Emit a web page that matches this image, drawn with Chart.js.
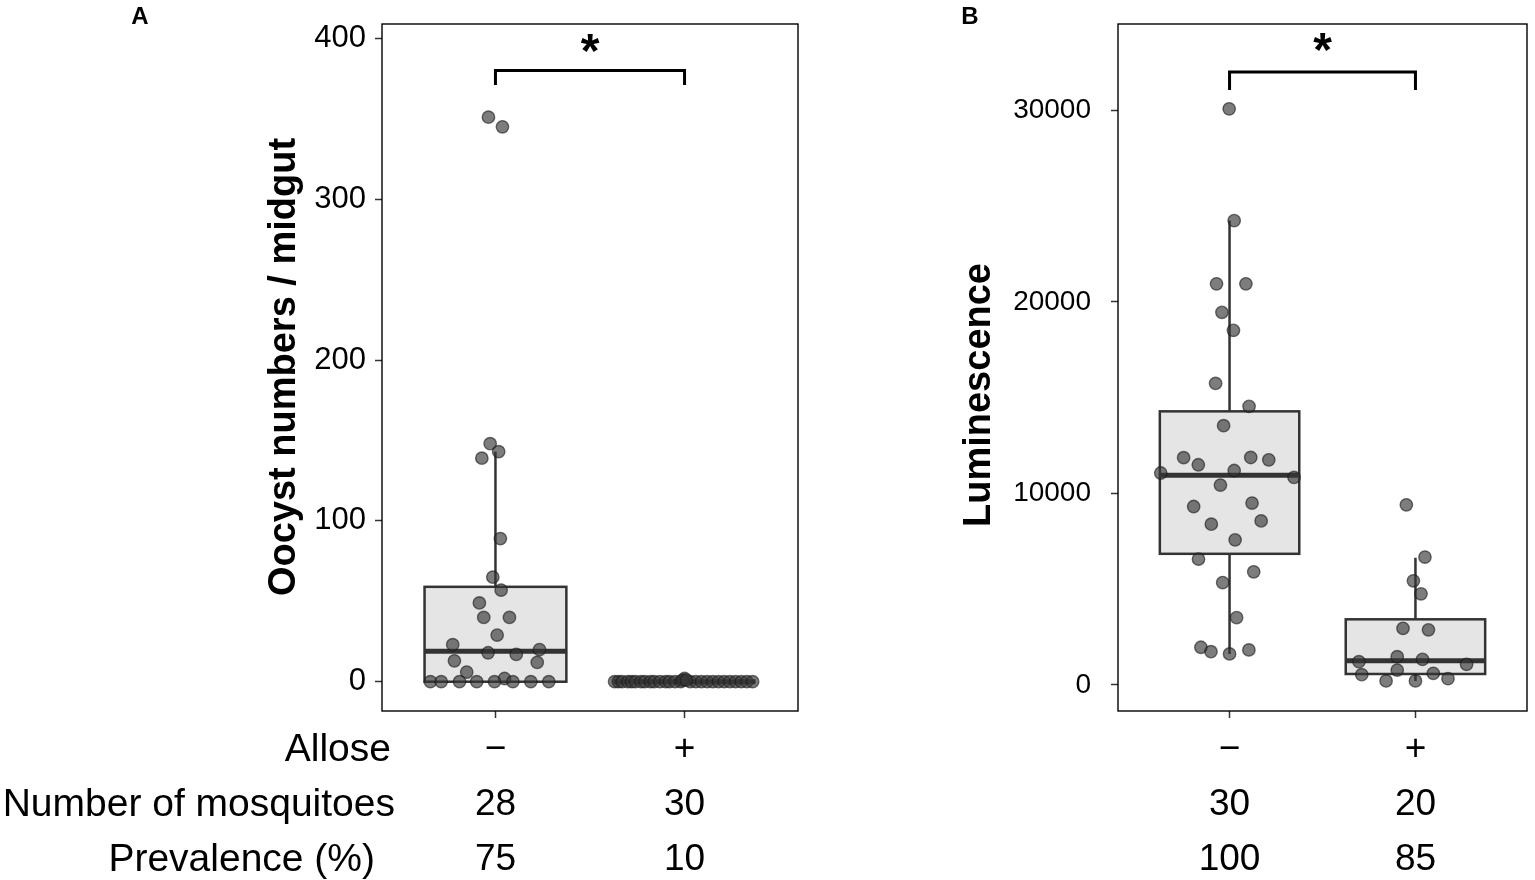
<!DOCTYPE html>
<html>
<head>
<meta charset="utf-8">
<script src="https://cdn.jsdelivr.net/npm/chart.js@4"></script>
<style>
  body { margin: 0; background: #fff; }
  #wrap { position: relative; width: 1535px; height: 880px; overflow: hidden; background: #fff; }
  canvas { position: absolute; top: 0; }
  #chartA { left: 0; }
  #chartB { left: 800px; }
</style>
</head>
<body>
<div id="wrap">
  <canvas id="chartA" width="806" height="880"></canvas>
  <canvas id="chartB" width="735" height="880"></canvas>
</div>
<script>
// groups and the table under the x axis
const groups = ['\u2212', '+'];
const rowNames = ['Allose', 'Number of mosquitoes', 'Prevalence (%)'];
const mosquitoCountA = [28, 30];
const prevalenceA = [75, 10];
const mosquitoCountB = [30, 20];
const prevalenceB = [100, 85];

const oocystTicks = [0, 100, 200, 300, 400];
const lumTicks = [0, 10000, 20000, 30000];

// panel A - oocysts per midgut (x = jittered position around group 1 / 2)
const oocystMinusX = [0.963, 1.037, 0.972, 1.017, 0.928, 1.026, 0.986, 1.030, 0.915, 0.938,
  1.074, 1.009, 0.774, 1.233, 0.961, 1.110, 0.783, 1.221, 0.848, 1.048,
  0.656, 0.713, 0.810, 0.901, 0.995, 1.092, 1.187, 1.282];
const oocystMinusY = [351, 345, 148, 143, 139, 89, 65, 57, 49, 40,
  40, 29, 23, 20, 18, 17, 13, 12, 6, 2,
  0, 0, 0, 0, 0, 0, 0, 0];
const oocystPlusX = [1.63, 1.65, 1.67, 1.70, 1.72, 1.74, 1.77, 1.79, 1.82, 1.84,
  1.87, 1.90, 1.92, 1.95, 1.98, 2.03, 2.06, 2.09, 2.12, 2.15,
  2.18, 2.21, 2.24, 2.27, 2.30, 2.33, 2.36, 2.00, 1.99, 2.01];
const oocystPlusY = [0, 0, 0, 0, 0, 0, 0, 0, 0, 0,
  0, 0, 0, 0, 0, 0, 0, 0, 0, 0,
  0, 0, 0, 0, 0, 0, 0, 2, 1, 1];

// panel A box statistics
const oocystQ1 = [0, 0];
const oocystMedian = [19, 0];
const oocystQ3 = [59, 0];
const oocystLow = [0, 0];
const oocystHigh = [143, 0];

// panel B - luminescence
const lumMinusX = [0.998, 1.025, 0.930, 1.088, 0.959, 1.021, 0.925, 1.105, 0.968, 0.753,
  0.832, 1.114, 1.211, 0.630, 1.025, 1.347, 0.951, 0.807, 1.121, 0.902,
  1.170, 1.030, 0.833, 1.130, 0.963, 1.038, 0.846, 0.900, 1.000, 1.104];
const lumMinusY = [30090, 24250, 20950, 20950, 19460, 18520, 15750, 14550, 13540, 11870,
  11500, 11880, 11760, 11070, 11200, 10840, 10440, 9320, 9500, 8400,
  8570, 7580, 6570, 5910, 5350, 3520, 1970, 1740, 1620, 1830];
const lumPlusX = [1.951, 2.051, 1.989, 2.030, 1.933, 2.070, 1.902, 2.038, 1.696, 2.275,
  1.902, 1.711, 2.096, 2.175, 1.842, 2.000];
const lumPlusY = [9410, 6680, 5440, 4760, 2960, 2880, 1480, 1340, 1220, 1080,
  780, 540, 610, 330, 210, 210];

// panel B box statistics
const lumQ1 = [6850, 575];
const lumMedian = [10950, 1270];
const lumQ3 = [14290, 3430];
const lumLow = [1620, 210];
const lumHigh = [24250, 6650];

// significance bracket: [tip, bar] heights and star level
const bracketA = [371, 380];
const bracketB = [31070, 32010];
const starA = 397;
const starB = 33600;

const FONT = '"Liberation Sans", Arial, Helvetica, sans-serif';
const BOX_WIDTH = 0.75;
const STAR_SIZE = 48;

function pts(xs, ys) {
    return xs.map((x, i) => ({ x: x, y: ys[i] }));
}

function bracketPoints(levels) {
    return [
        { x: 1, y: levels[0] }, { x: 1, y: levels[1] },
        { x: 2, y: levels[1] }, { x: 2, y: levels[0] }
    ];
}

// no extra room for tick labels: chart area is fixed by layout padding
function noScalePadding(s) {
    s.paddingTop = 0;
    s.paddingBottom = 0;
    s.paddingLeft = 0;
    s.paddingRight = 0;
}

const panelDecor = {
    id: 'panelDecor',
    beforeDatasetsDraw(chart, args, o) {
        const { ctx, scales: { x, y } } = chart;
        ctx.save();
        ctx.strokeStyle = '#333333';
        o.q1.forEach((q1, i) => {
            const cx = x.getPixelForValue(i + 1);
            const left = x.getPixelForValue(i + 1 - BOX_WIDTH / 2);
            const right = x.getPixelForValue(i + 1 + BOX_WIDTH / 2);
            const top = y.getPixelForValue(o.q3[i]);
            const bot = y.getPixelForValue(q1);
            // whiskers
            ctx.lineWidth = 2.5;
            ctx.beginPath();
            ctx.moveTo(cx, top);
            ctx.lineTo(cx, y.getPixelForValue(o.high[i]));
            ctx.moveTo(cx, bot);
            ctx.lineTo(cx, y.getPixelForValue(o.low[i]));
            ctx.stroke();
            // box
            ctx.fillStyle = '#e5e5e5';
            ctx.fillRect(left, top, right - left, bot - top);
            ctx.strokeRect(left, top, right - left, bot - top);
            // median
            const m = y.getPixelForValue(o.median[i]);
            ctx.lineWidth = 5;
            ctx.beginPath();
            ctx.moveTo(left, m);
            ctx.lineTo(right, m);
            ctx.stroke();
        });
        ctx.restore();
    },
    afterDraw(chart, args, o) {
        const { ctx, chartArea: a, scales: { x, y } } = chart;
        ctx.save();
        // panel border
        ctx.strokeStyle = '#000';
        ctx.lineWidth = 1.4;
        ctx.strokeRect(a.left, a.top, a.right - a.left, a.bottom - a.top);

        ctx.fillStyle = '#000';
        // y axis title
        ctx.save();
        ctx.translate(o.titleX, o.titleY);
        ctx.rotate(-Math.PI / 2);
        ctx.font = 'bold 38px ' + FONT;
        ctx.textAlign = 'center';
        ctx.textBaseline = 'alphabetic';
        ctx.fillText(o.title, 0, 0);
        ctx.restore();

        // panel letter
        ctx.font = 'bold 24px ' + FONT;
        ctx.textAlign = 'center';
        ctx.textBaseline = 'middle';
        ctx.fillText(o.letter, o.letterX, 17);

        // significance star (glyph centre sits about 0.5em above the baseline)
        ctx.font = 'bold ' + STAR_SIZE + 'px ' + FONT;
        ctx.textBaseline = 'alphabetic';
        ctx.fillText('*', x.getPixelForValue(1.5), y.getPixelForValue(o.star) + STAR_SIZE * 0.5);

        // row names of the table under the axis
        if (o.rows) {
            ctx.font = '39px ' + FONT;
            ctx.textAlign = 'right';
            ctx.textBaseline = 'middle';
            const first = a.bottom + 7 + 4.5 + 55 / 2;
            o.rows.forEach((r, i) => {
                ctx.fillText(r, o.rowRight[i], first + i * 55);
            });
        }
        ctx.restore();
    }
};

function makePanel(id, cfg) {
    const ctx = document.getElementById(id).getContext('2d');
    return new Chart(ctx, {
        type: 'scatter',
        data: {
            datasets: [
                {
                    data: pts(cfg.minusX, cfg.minusY),
                    backgroundColor: 'rgba(55, 55, 55, 0.65)',
                    borderColor: 'rgba(25, 25, 25, 0.6)',
                    borderWidth: 1.4,
                    pointRadius: 6.2
                },
                {
                    data: pts(cfg.plusX, cfg.plusY),
                    backgroundColor: 'rgba(55, 55, 55, 0.65)',
                    borderColor: 'rgba(25, 25, 25, 0.6)',
                    borderWidth: 1.4,
                    pointRadius: 6.2
                },
                {
                    type: 'line',
                    data: bracketPoints(cfg.bracket),
                    borderColor: '#000',
                    borderWidth: 3,
                    pointRadius: 0,
                    fill: false,
                    tension: 0
                }
            ]
        },
        options: {
            responsive: false,
            animation: false,
            events: [],
            layout: { padding: { left: 0, top: 24, right: cfg.padRight, bottom: 0 } },
            plugins: {
                legend: { display: false },
                tooltip: { enabled: false },
                panelDecor: cfg.decor
            },
            scales: {
                x: {
                    type: 'linear',
                    min: 0.4,
                    max: 2.6,
                    afterBuildTicks: s => { s.ticks = [{ value: 1 }, { value: 2 }]; },
                    afterFit: s => { s.height = 169; noScalePadding(s); },
                    grid: { drawOnChartArea: false, tickLength: 7, tickColor: '#333', tickWidth: 1.5 },
                    border: { display: false },
                    ticks: {
                        autoSkip: false,
                        maxRotation: 0,
                        padding: 4.5,
                        color: '#000',
                        font: { family: FONT, size: 37, lineHeight: 55 / 37 },
                        callback: (v, i) => [groups[i], String(cfg.counts[i]), String(cfg.prevalence[i])]
                    }
                },
                y: {
                    type: 'linear',
                    min: cfg.yMin,
                    max: cfg.yMax,
                    afterBuildTicks: s => { s.ticks = cfg.yTicks.map(v => ({ value: v })); },
                    afterFit: s => { s.width = cfg.axisWidth; noScalePadding(s); },
                    grid: { drawOnChartArea: false, tickLength: 7, tickColor: '#333', tickWidth: 1.5 },
                    border: { display: false },
                    ticks: {
                        padding: cfg.tickPad,
                        color: '#000',
                        font: { family: FONT, size: cfg.tickSize },
                        callback: v => String(v)
                    }
                }
            }
        },
        plugins: [panelDecor]
    });
}

makePanel('chartA', {
    minusX: oocystMinusX, minusY: oocystMinusY,
    plusX: oocystPlusX, plusY: oocystPlusY,
    bracket: bracketA,
    counts: mosquitoCountA, prevalence: prevalenceA,
    yMin: -18.2, yMax: 408.9, yTicks: oocystTicks,
    axisWidth: 382, padRight: 8, tickPad: 9, tickSize: 31,
    decor: {
        q1: oocystQ1, median: oocystMedian, q3: oocystQ3, low: oocystLow, high: oocystHigh,
        title: 'Oocyst numbers / midgut', titleX: 295, titleY: 367,
        letter: 'A', letterX: 140, star: starA,
        rows: rowNames, rowRight: [391, 395, 375]
    }
});

makePanel('chartB', {
    minusX: lumMinusX, minusY: lumMinusY,
    plusX: lumPlusX, plusY: lumPlusY,
    bracket: bracketB,
    counts: mosquitoCountB, prevalence: prevalenceB,
    yMin: -1358, yMax: 34517, yTicks: lumTicks,
    axisWidth: 318, padRight: 8, tickPad: 20, tickSize: 28,
    decor: {
        q1: lumQ1, median: lumMedian, q3: lumQ3, low: lumLow, high: lumHigh,
        title: 'Luminescence', titleX: 990 - 800, titleY: 395,
        letter: 'B', letterX: 970 - 800, star: starB,
        rows: null
    }
});
</script>
</body>
</html>
